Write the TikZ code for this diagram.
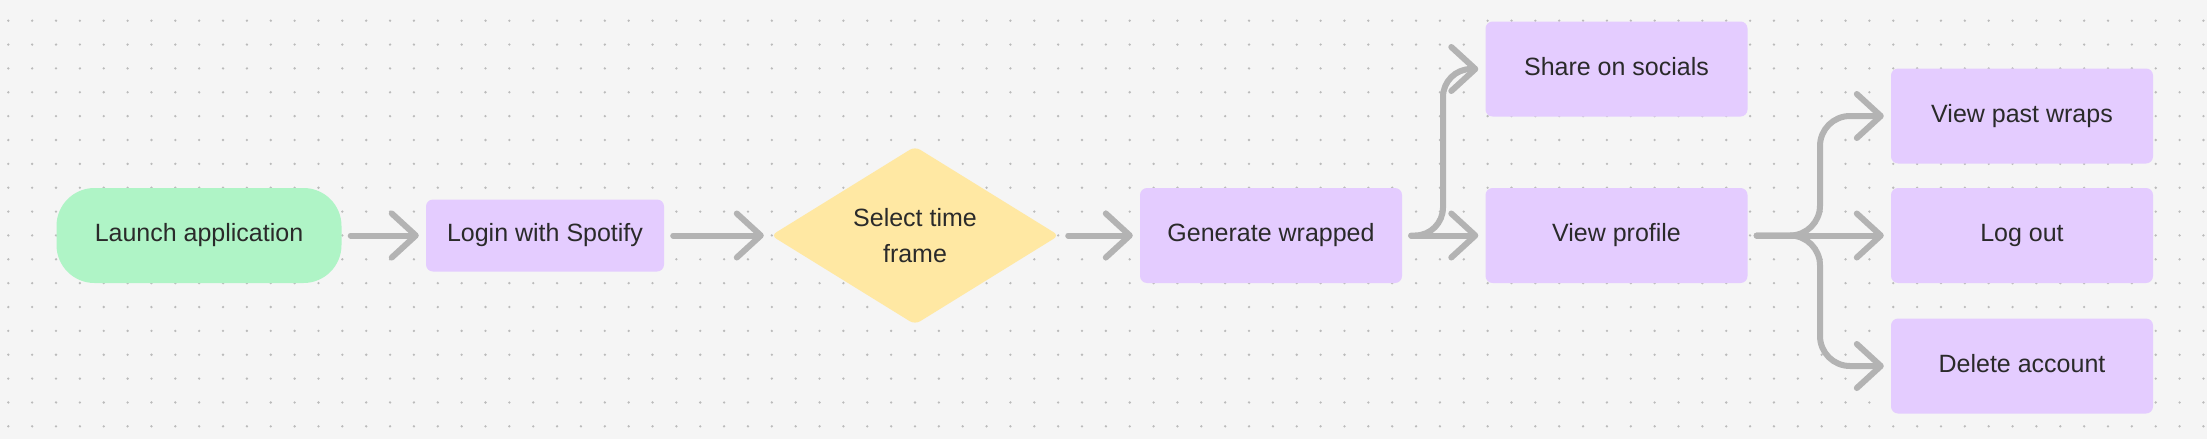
\documentclass[tikz,border=0pt]{standalone}
\usepackage{fontspec}
\setmainfont{Liberation Sans}
\usetikzlibrary{arrows.meta, shapes.geometric, calc}
\usepackage{xcolor}

\definecolor{bgcol}{HTML}{F5F5F5}
\definecolor{dotcol}{HTML}{BBBBBB}
\definecolor{linecol}{HTML}{B3B3B3}
\definecolor{greenfill}{HTML}{AFF4C6}
\definecolor{purplefill}{HTML}{E4CCFF}
\definecolor{yellowfill}{HTML}{FFE8A3}
\definecolor{textcol}{HTML}{2A2A2A}

\begin{document}
\begin{tikzpicture}[x=1pt, y=-1pt,
    label/.style={inner sep=0pt, text=textcol, font=\fontsize{25}{36}\selectfont},
    startbox/.style={label, rectangle, rounded corners=38pt, fill=greenfill, minimum width=285pt, minimum height=95pt, text height=17pt, text depth=5pt},
    taskbox/.style={label, rectangle, rounded corners=7pt, fill=purplefill, minimum width=262pt, minimum height=95pt, text height=17pt, text depth=5pt},
    choice/.style={label, diamond, rounded corners=6pt, fill=yellowfill, minimum width=288pt, minimum height=167pt, align=center},
    flow/.style={draw=linecol, line width=6pt, line cap=round, rounded corners=28pt, shorten <=9pt, shorten >=7pt, -{Straight Barb[length=24pt, width=44pt, round]}}]
      \useasboundingbox[fill=bgcol] (0, 0) rectangle (2207, 439);

      % dotted canvas
      \foreach \i in {0,...,92}
        \foreach \j in {0,...,17}
          \fill[dotcol] ({8.3+\i*23.86}, {20.7+\j*23.86}) circle (1.3pt);

      \node[startbox] (launch) at (199, 235.5) {Launch application};
      \node[taskbox, minimum width=238pt, minimum height=72pt] (login) at (545, 235.5) {Login with Spotify};
      \node[choice] (select) at (915, 235.5) {Select time\\frame};
      \node[taskbox] (generate) at (1271, 235.5) {Generate wrapped};
      \node[taskbox] (share) at (1616.5, 69) {Share on socials};
      \node[taskbox] (profile) at (1616.5, 235.5) {View profile};
      \node[taskbox] (pastwraps) at (2022, 116) {View past wraps};
      \node[taskbox] (logout) at (2022, 235.5) {Log out};
      \node[taskbox] (delete) at (2022, 366) {Delete account};

      \coordinate (split1) at (1443, 235.5);
      \coordinate (split2) at (1820, 235.5);

      \draw[flow] (launch) -- (login);
      \draw[flow] (login) -- (select);
      \draw[flow] (select) -- (generate);
      \draw[flow] (generate) -- (profile);
      \draw[flow] (generate.east) -- (split1) |- (share.west);
      \draw[flow] (profile) -- (logout);
      \draw[flow, rounded corners=30pt] (profile.east) -- (split2) |- (pastwraps.west);
      \draw[flow, rounded corners=30pt] (profile.east) -- (split2) |- (delete.west);
    \end{tikzpicture}
\end{document}
